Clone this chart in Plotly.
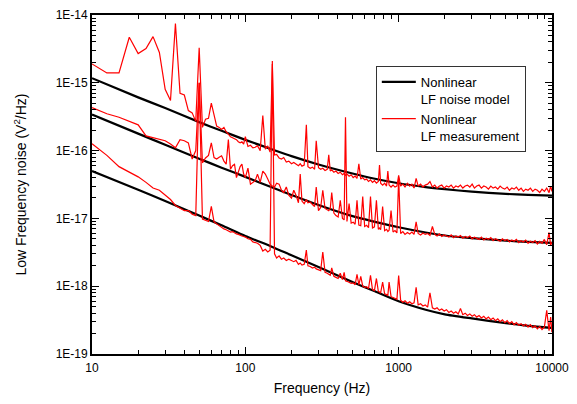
import plotly.graph_objects as go

# ---------------- data ----------------
freq_model = [10, 20, 30, 50, 70, 100, 150, 200, 300, 500, 700, 1000, 1500, 2000, 3000, 5000, 7000, 10000]
model_top = [1.17e-15, 6.1e-16, 4.25e-16, 2.63e-16, 1.96e-16, 1.44e-16, 1.04e-16, 8.3e-17, 6.25e-17, 4.6e-17,
             3.85e-17, 3.3e-17, 2.9e-17, 2.7e-17, 2.48e-17, 2.3e-17, 2.22e-17, 2.16e-17]
model_mid = [3.4e-16, 1.78e-16, 1.22e-16, 7.6e-17, 5.6e-17, 4.1e-17, 2.85e-17, 2.22e-17, 1.58e-17, 1.08e-17,
             8.9e-18, 7.4e-18, 6.2e-18, 5.6e-18, 5.1e-18, 4.7e-18, 4.5e-18, 4.35e-18]
model_low = [5.0e-17, 2.65e-17, 1.8e-17, 1.1e-17, 7.9e-18, 5.5e-18, 3.8e-18, 2.85e-18, 1.92e-18, 1.15e-18,
             8.4e-19, 6.0e-19, 4.5e-19, 3.85e-19, 3.35e-19, 2.85e-19, 2.6e-19, 2.42e-19]

freq_meas = [
    10, 12.5, 15, 17.5, 20, 22.5, 25, 27.5, 30, 32.5, 35, 37.5, 40, 42.5, 45, 47.5, 50, 52.5, 55, 57.5,
    60, 62.5, 65, 67.5, 70, 72.5, 75, 77.5, 80, 82.5, 85, 87.5, 90, 92.5, 95, 97.5,
    100, 104, 108, 112, 116, 120, 125, 130, 135, 140, 145, 150, 155, 160, 166, 172, 178, 185, 192, 200,
    207, 214, 222, 228, 234, 242, 250, 256, 265, 274, 283, 290,
    300, 310, 320, 331, 342, 350, 358, 366, 378, 390, 403, 416, 430, 441, 450, 460, 475, 490,
    505, 520, 535, 550, 566, 583, 600, 618, 636, 655, 675, 695, 716, 737, 750, 763, 786, 810, 834, 850,
    866, 892, 919, 946, 974,
    1000, 1030, 1065, 1100, 1140, 1180, 1220, 1260, 1300, 1340, 1390, 1440, 1490, 1545, 1600, 1660, 1720,
    1780, 1845, 1910, 1980, 2050, 2125, 2200, 2280, 2360, 2445, 2530, 2620, 2715, 2810, 2910, 3015, 3120,
    3230, 3345, 3465, 3590, 3720, 3850, 3990, 4130, 4280, 4430, 4590, 4750, 4920, 5100, 5280, 5470, 5660,
    5860, 6070, 6290, 6510, 6740, 6980, 7230, 7490, 7760, 8030, 8320, 8610, 8920, 9240, 9570, 9800, 10000]

meas_top = [
    1.9e-15, 1.4e-15, 1.4e-15, 4.7e-15, 2.7e-15, 3.2e-15, 4.8e-15, 2.8e-15, 8.0e-16, 5.5e-16,
    7.5e-15, 7.0e-16, 6.6e-16, 3.9e-16, 3.6e-16, 2.7e-16, 3.3e-15, 2.2e-16, 2.9e-16, 3.0e-16,
    5.0e-16, 3.5e-16, 2.3e-16, 2.2e-16, 2.05e-16, 2.2e-16, 1.9e-16, 1.75e-16, 1.6e-16, 1.55e-16,
    1.5e-16, 1.45e-16, 1.35e-16, 1.3e-16, 1.35e-16, 1.25e-16,
    1.6e-16, 1.15e-16, 1.2e-16, 1.1e-16, 1.12e-16, 1.18e-16, 1.0e-16, 3.3e-16, 1.05e-16, 1.17e-16,
    9.5e-17, 1.9e-15, 8.6e-17, 8.8e-17, 7.8e-17, 7.5e-17, 7.9e-17, 6.8e-17, 7.0e-17, 6.4e-17,
    6.7e-17, 6.3e-17, 6.0e-17, 6.4e-17, 5.9e-17, 6.1e-17, 2.4e-16, 5.8e-17, 5.5e-17, 5.7e-17, 5.3e-17, 1.4e-16,
    5.6e-17, 5.3e-17, 5.5e-17, 5.1e-17, 5.3e-17, 8.7e-17, 5.0e-17, 5.2e-17, 4.8e-17, 5.0e-17,
    4.6e-17, 4.8e-17, 4.4e-17, 4.6e-17, 4.3e-17, 4.5e-17, 4.2e-17, 4.4e-17,
    4.0e-17, 4.2e-17, 3.9e-17, 6.4e-17, 3.8e-17, 4.0e-17, 3.7e-17, 3.8e-17, 3.5e-17, 3.7e-17,
    3.4e-17, 3.6e-17, 3.3e-17, 3.5e-17, 6.1e-17, 3.3e-17, 3.1e-17, 3.3e-17, 3.0e-17, 5.0e-17,
    3.1e-17, 2.9e-17, 3.1e-17, 2.9e-17, 3.0e-17,
    4.3e-17, 3.0e-17, 3.2e-17, 2.9e-17, 3.3e-17, 3.0e-17, 3.2e-17, 2.8e-17, 3.9e-17, 3.0e-17,
    3.2e-17, 2.9e-17, 3.1e-17, 3.2e-17, 3.5e-17, 2.9e-17, 3.1e-17, 2.8e-17, 3.0e-17, 3.1e-17,
    2.8e-17, 3.0e-17, 2.9e-17, 3.1e-17, 2.8e-17, 3.0e-17, 2.9e-17, 3.1e-17, 2.8e-17, 3.0e-17,
    3.1e-17, 2.9e-17, 3.2e-17, 2.8e-17, 3.0e-17, 3.1e-17, 2.8e-17, 3.0e-17, 2.9e-17, 2.7e-17,
    3.0e-17, 2.8e-17, 2.9e-17, 2.7e-17, 3.0e-17, 2.8e-17, 2.7e-17, 2.9e-17, 2.6e-17, 2.8e-17,
    2.7e-17, 2.9e-17, 2.6e-17, 2.8e-17, 2.5e-17, 2.7e-17, 2.6e-17, 2.8e-17, 2.5e-17, 2.7e-17,
    2.6e-17, 2.4e-17, 2.7e-17, 2.5e-17, 2.8e-17, 2.4e-17, 3.0e-17, 2.5e-17]

meas_mid = [
    4.3e-16, 3.5e-16, 3.1e-16, 2.7e-16, 2.4e-16, 1.65e-16, 1.55e-16, 1.5e-16, 1.4e-16, 1.25e-16,
    1.1e-16, 1.45e-16, 1.4e-16, 1.3e-16, 7.5e-17, 1.0e-16, 1.0e-15, 6.6e-17, 7.8e-17, 8.5e-17,
    1.3e-16, 7.9e-17, 7.5e-17, 8.0e-17, 8.4e-17, 7.0e-17, 6.3e-17, 1.46e-16, 5.3e-17, 6.0e-17,
    6.3e-17, 4.0e-17, 5.0e-17, 5.8e-17, 6.3e-17, 4.5e-17,
    4.0e-17, 5.5e-17, 3.2e-17, 3.4e-17, 3.6e-17, 4.5e-17, 3.4e-17, 5.0e-17, 4.5e-17, 3.8e-17,
    3.2e-17, 3.0e-17, 2.9e-17, 3.3e-17, 3.2e-17, 2.6e-17, 2.4e-17, 2.9e-17, 2.2e-17, 2.0e-17,
    2.6e-17, 2.2e-17, 1.7e-17, 4.5e-17, 1.8e-17, 1.65e-17, 1.9e-17, 1.7e-17, 1.75e-17, 1.6e-17, 1.5e-17, 2.9e-17,
    1.3e-17, 1.45e-17, 2.6e-17, 1.4e-17, 1.35e-17, 1.3e-17, 1.4e-17, 2.4e-17, 1.2e-17, 1.1e-17,
    1.05e-17, 1.85e-17, 1.0e-17, 9.5e-18, 3.1e-16, 9.0e-18, 1.65e-17, 8.5e-18,
    8.8e-18, 8.2e-18, 1.85e-17, 8.0e-18, 7.8e-18, 2.1e-17, 7.6e-18, 7.9e-18, 7.3e-18, 2.1e-17,
    7.2e-18, 7.5e-18, 1.85e-17, 6.9e-18, 7.2e-18, 6.8e-18, 1.5e-17, 6.6e-18, 6.9e-18, 6.4e-18,
    6.7e-18, 1.3e-17, 6.3e-18, 6.6e-18, 6.1e-18,
    4.0e-17, 6.0e-18, 6.4e-18, 5.8e-18, 6.2e-18, 5.9e-18, 6.3e-18, 5.8e-18, 8.9e-18, 6.0e-18,
    5.7e-18, 6.1e-18, 5.8e-18, 6.0e-18, 5.6e-18, 7.6e-18, 5.8e-18, 5.5e-18, 5.9e-18, 5.4e-18,
    5.7e-18, 5.5e-18, 5.3e-18, 5.7e-18, 5.2e-18, 5.5e-18, 5.3e-18, 5.6e-18, 5.1e-18, 5.4e-18,
    5.2e-18, 5.5e-18, 5.0e-18, 5.3e-18, 5.1e-18, 4.9e-18, 5.3e-18, 4.8e-18, 5.1e-18, 4.9e-18,
    5.2e-18, 4.7e-18, 5.0e-18, 4.8e-18, 4.6e-18, 5.0e-18, 4.7e-18, 4.9e-18, 4.5e-18, 4.8e-18,
    4.6e-18, 4.9e-18, 4.4e-18, 4.7e-18, 4.5e-18, 4.8e-18, 4.3e-18, 4.6e-18, 4.4e-18, 4.7e-18,
    4.2e-18, 4.6e-18, 4.3e-18, 4.9e-18, 4.1e-18, 6.2e-18, 4.0e-18, 4.5e-18]

meas_low = [
    1.26e-16, 8.5e-17, 5.8e-17, 4.8e-17, 4.1e-17, 3.4e-17, 2.8e-17, 2.6e-17, 2.2e-17, 1.9e-17,
    1.55e-17, 1.4e-17, 1.3e-17, 1.3e-17, 1.15e-17, 1.1e-17, 1.0e-15, 9.8e-18, 9.4e-18, 9.0e-18,
    1.5e-17, 8.9e-18, 8.3e-18, 7.8e-18, 7.3e-18, 7.0e-18, 6.8e-18, 6.5e-18, 6.3e-18, 6.4e-18,
    6.1e-18, 5.9e-18, 5.8e-18, 5.6e-18, 5.5e-18, 5.4e-18,
    5.3e-18, 5.0e-18, 4.9e-18, 4.5e-18, 4.4e-18, 4.3e-18, 4.0e-18, 3.3e-18, 3.5e-18, 3.2e-18,
    3.4e-18, 2.1e-15, 3.0e-18, 2.6e-18, 2.8e-18, 2.5e-18, 2.6e-18, 2.4e-18, 2.5e-18, 2.4e-18,
    2.3e-18, 2.4e-18, 2.1e-18, 2.2e-18, 2.05e-18, 2.1e-18, 3.4e-18, 2.0e-18, 1.95e-18, 1.85e-18, 1.9e-18, 1.8e-18,
    1.75e-18, 1.7e-18, 3.2e-18, 1.6e-18, 1.55e-18, 1.5e-18, 1.45e-18, 1.86e-18, 1.4e-18, 1.35e-18,
    1.3e-18, 1.55e-18, 1.25e-18, 1.6e-18, 1.2e-18, 1.18e-18, 1.15e-18, 1.1e-18,
    1.12e-18, 1.05e-18, 1.5e-18, 1.05e-18, 1.4e-18, 1.0e-18, 9.6e-19, 9.8e-19, 9.2e-19, 1.45e-18,
    8.9e-19, 8.6e-19, 1.3e-18, 8.4e-19, 8.2e-19, 8.0e-19, 1.15e-18, 7.7e-19, 7.5e-19, 7.3e-19,
    1.15e-18, 7.0e-19, 6.8e-19, 6.6e-19, 6.4e-19,
    1.44e-18, 6.2e-19, 5.8e-19, 6.1e-19, 5.6e-19, 5.9e-19, 5.5e-19, 5.7e-19, 9.6e-19, 5.3e-19,
    5.5e-19, 5.1e-19, 5.3e-19, 4.9e-19, 8.0e-19, 4.8e-19, 4.6e-19, 4.8e-19, 4.4e-19, 4.6e-19,
    4.3e-19, 4.5e-19, 4.1e-19, 4.3e-19, 4.0e-19, 4.2e-19, 3.9e-19, 4.7e-19, 3.8e-19, 4.0e-19,
    3.7e-19, 3.9e-19, 3.6e-19, 3.8e-19, 3.5e-19, 3.7e-19, 3.4e-19, 3.6e-19, 3.3e-19, 3.5e-19,
    3.2e-19, 3.4e-19, 3.1e-19, 3.3e-19, 3.0e-19, 3.2e-19, 2.9e-19, 3.1e-19, 2.8e-19, 3.0e-19,
    2.7e-19, 2.9e-19, 2.65e-19, 2.8e-19, 2.6e-19, 2.75e-19, 2.5e-19, 2.7e-19, 2.45e-19, 2.6e-19,
    2.35e-19, 2.55e-19, 2.3e-19, 2.5e-19, 4.4e-19, 2.2e-19, 3.5e-19, 2.1e-19]

assert len(meas_top) == len(freq_meas), (len(meas_top), len(freq_meas))
assert len(meas_mid) == len(freq_meas), (len(meas_mid), len(freq_meas))
assert len(meas_low) == len(freq_meas), (len(meas_low), len(freq_meas))

x_tick_vals = [10, 100, 1000, 10000]
x_tick_text = ["10", "100", "1000", "10000"]
y_tick_vals = [1e-19, 1e-18, 1e-17, 1e-16, 1e-15, 1e-14]
y_tick_text = ["1E-19", "1E-18", "1E-17", "1E-16", "1E-15", "1E-14"]

model_name = "Nonlinear<br>LF noise model"
meas_name = "Nonlinear<br>LF measurement"

# ---------------- figure ----------------
fig = go.Figure()
for i, yv in enumerate([model_top, model_mid, model_low]):
    fig.add_trace(go.Scatter(x=freq_model, y=yv, mode="lines",
                             line=dict(color="black", width=2.2, shape="spline", smoothing=0.6),
                             name=model_name, legendgroup="model", showlegend=(i == 0)))
for i, yv in enumerate([meas_top, meas_mid, meas_low]):
    fig.add_trace(go.Scatter(x=freq_meas, y=yv, mode="lines", line=dict(color="#ff0000", width=1.2),
                             name=meas_name, legendgroup="meas", showlegend=(i == 0)))

FONT = "Arial, 'Liberation Sans', sans-serif"
x_minor = [m * d for d in (10, 100, 1000) for m in range(2, 10)]
y_minor = [m * d for d in (1e-19, 1e-18, 1e-17, 1e-16, 1e-15) for m in range(2, 10)]

axis_common = dict(showline=True, linewidth=1.8, linecolor="black", mirror="ticks", ticks="inside",
                   ticklen=7, tickwidth=1.3, tickcolor="black", showgrid=False, zeroline=False,
                   automargin=False, ticklabeloverflow="allow",
                   tickfont=dict(family=FONT, size=12, color="black"))

fig.update_xaxes(type="log", range=[0.9999, 4.0001], tickmode="array", tickvals=x_tick_vals, ticktext=x_tick_text,
                 minor=dict(tickmode="array", tickvals=x_minor, ticks="inside", ticklen=4, tickwidth=1,
                            tickcolor="black", showgrid=False),
                 ticklabelstandoff=2,
                 title=dict(text="Frequency (Hz)", font=dict(family=FONT, size=14, color="black"), standoff=13),
                 **axis_common)
fig.update_yaxes(type="log", range=[-19.0002, -13.9998], tickmode="array", tickvals=y_tick_vals, ticktext=y_tick_text,
                 minor=dict(tickmode="array", tickvals=y_minor, ticks="inside", ticklen=4, tickwidth=1,
                            tickcolor="black", showgrid=False),
                 title=dict(text="Low Frequency noise (V<sup>2</sup>/Hz)",
                            font=dict(family=FONT, size=14, color="black"), standoff=26),
                 **axis_common)

fig.update_layout(
    width=569, height=388,
    margin=dict(l=84, r=25, t=7, b=42, autoexpand=False),
    paper_bgcolor="white", plot_bgcolor="white",
    font=dict(family=FONT, size=13, color="black"),
    legend=dict(x=0.617, y=0.85, xanchor="left", yanchor="top", bgcolor="white",
                bordercolor="#333333", borderwidth=1, valign="top", itemwidth=34,
                font=dict(family=FONT, size=13, color="black"), tracegroupgap=0),
)

fig.write_html("out.html")
